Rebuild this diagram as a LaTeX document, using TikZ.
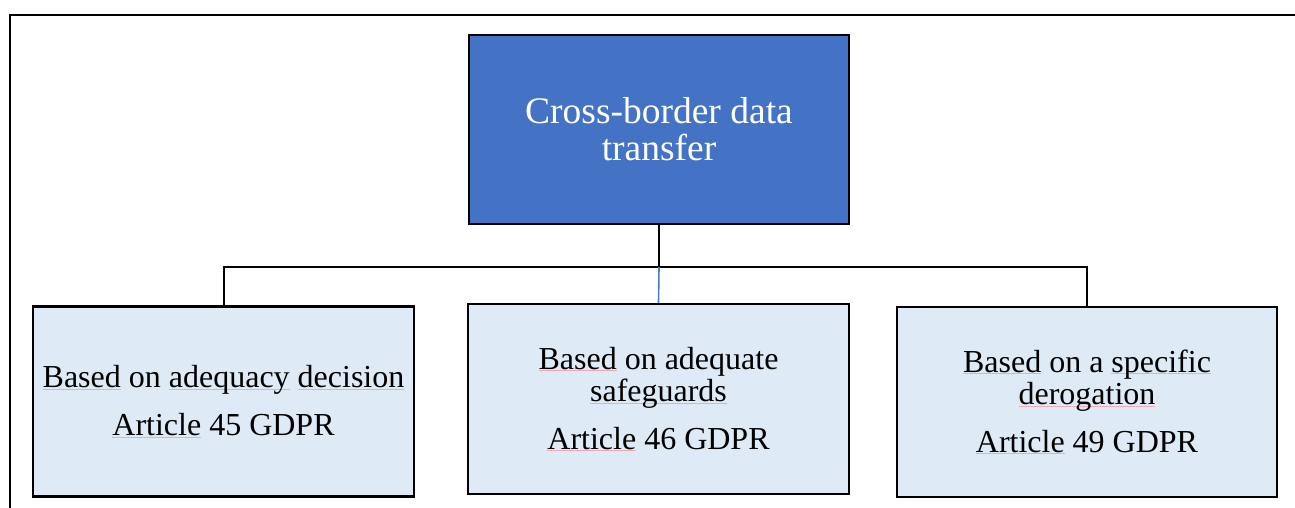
\documentclass[tikz,border=0pt]{standalone}
\usepackage{fontspec}
\setmainfont{Liberation Serif}
\newfontfamily\boxface{Liberation Serif}
\definecolor{rootfill}{RGB}{68,114,196}
\definecolor{leaffill}{RGB}{222,234,246}
\definecolor{linkblue}{RGB}{74,126,187}
\definecolor{spell}{RGB}{244,170,178}
% proofing mark under a word
\newcommand\proofmark[1]{\setbox0\hbox{#1}\rlap{\textcolor{spell}{\rule[-2pt]{\wd0}{0.8pt}}}#1}
\tikzset{
  rootbox/.style={draw=black, line width=2.5pt, fill=rootfill, text=white,
    minimum width=380pt, minimum height=189pt, inner sep=0pt, align=center,
    font=\boxface\fontsize{37.5}{37}\selectfont},
  leafbox/.style={draw=black, line width=2.5pt, fill=leaffill, text=black,
    minimum width=381pt, minimum height=190pt, inner sep=0pt, align=center,
    font=\boxface\fontsize{32}{32.5}\selectfont},
  conn/.style={draw=black, line width=2pt},
  midconn/.style={draw=linkblue, line width=1.6pt},
}
\begin{document}
\begin{tikzpicture}[x=1pt,y=-1pt]
\useasboundingbox (0,0) rectangle (1295,508);
% page frame
\draw[line width=2.2pt] (10,510) -- (10,15) -- (1297,15);

\node[rootbox] (root) at (659,129.5) {Cross-border data\\transfer};

\node[leafbox] (adq) at (223.5,401.5)
  {\proofmark{Based} on \proofmark{adequacy} \proofmark{decision}\\[15pt]\proofmark{Article} 45 GDPR};
\node[leafbox] (safe) at (658.5,399)
  {\proofmark{Based} on adequate\\\proofmark{safeguards}\\[15pt]\proofmark{Article} 46 GDPR};
\node[leafbox, minimum width=380pt] (derog) at (1087,402)
  {\proofmark{Based} on a \proofmark{specific}\\\proofmark{derogation}\\[15pt]\proofmark{Article} 49 GDPR};

\coordinate (bus) at (659,267);
\draw[conn] (root.south) -- (bus);
\draw[conn] (adq.north) |- (bus) -| (derog.north);
\draw[midconn] (bus) -- (safe.north);
\end{tikzpicture}
\end{document}
